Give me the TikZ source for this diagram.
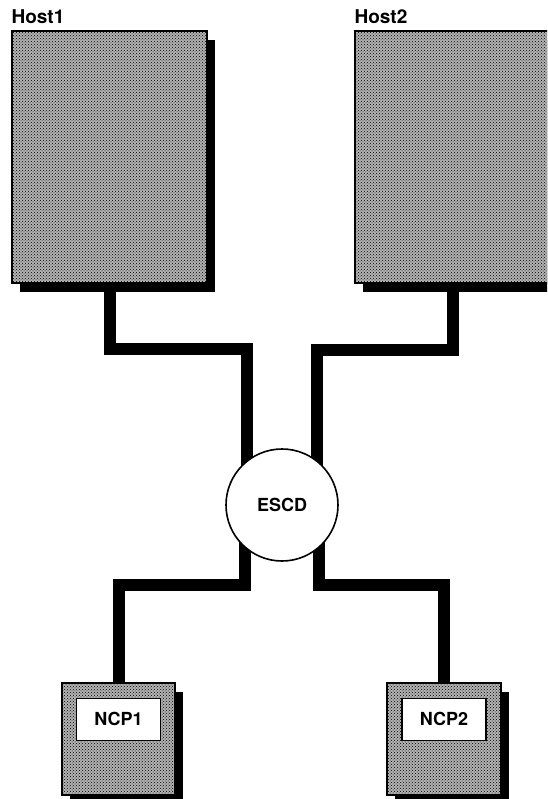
\documentclass[tikz,border=0pt]{standalone}
\usepackage{fontspec}
\setmainfont{TeX Gyre Heros}
\usepackage{tikz}
\usetikzlibrary{patterns, shadows, calc}

\begin{document}
\begin{tikzpicture}[
    x=1pt, y=1pt,
    machine/.style={rectangle,
        drop shadow={shadow xshift=8pt, shadow yshift=-9pt, fill=black, opacity=1},
        preaction={fill=black!30}, draw, line width=1.2pt,
        pattern=crosshatch dots, pattern color=black},
    switch/.style={circle, draw, line width=1.6pt, fill=white, minimum size=112pt, inner sep=0pt,
        font=\fontsize{18}{20}\selectfont\bfseries},
    tag/.style={rectangle, draw, line width=1.4pt, fill=white, minimum width=84pt, minimum height=42pt,
        inner sep=0pt, font=\fontsize{18}{20}\selectfont\bfseries},
    hostname/.style={font=\fontsize{19}{21}\selectfont\bfseries, inner sep=0pt, anchor=base west},
    link/.style={line width=12pt, line cap=butt, line join=miter},
]
\useasboundingbox (0,0) rectangle (547,-799);
\clip (0,0) rectangle (547,-799);
% hosts
\node[machine, minimum width=195pt, minimum height=252pt] (host1) at (109.5,-157) {};
\node[machine, minimum width=195pt, minimum height=252pt] (host2) at (452.5,-157) {};
\node[hostname] (host1name) at ([yshift=7pt]host1.north west) {Host1};
\node[hostname] (host2name) at ([yshift=7pt]host2.north west) {Host2};
% controllers
\node[machine, minimum width=113pt, minimum height=112pt] (ncp1) at (118.5,-739) {};
\node[machine, minimum width=114pt, minimum height=112pt] (ncp2) at (444,-739) {};
\node[tag] (ncp1tag) at ([yshift=-37pt]ncp1.north) {NCP1};
\node[tag] (ncp2tag) at ([yshift=-37pt]ncp2.north) {NCP2};
% director
\coordinate (escdpos) at (282,-505);
\draw[link] (host1.south) -- ++(0,-65) -| ([xshift=-35pt]escdpos);
\draw[link] (host2.south) -- ++(0,-66) -| ([xshift=35pt]escdpos);
\draw[link] ([xshift=-37pt]escdpos) -- ++(0,-80) -| (ncp1.north);
\draw[link] ([xshift=37pt]escdpos) -- ++(0,-80) -| (ncp2.north);
\node[switch] (escd) at (escdpos) {ESCD};
\end{tikzpicture}
\end{document}
